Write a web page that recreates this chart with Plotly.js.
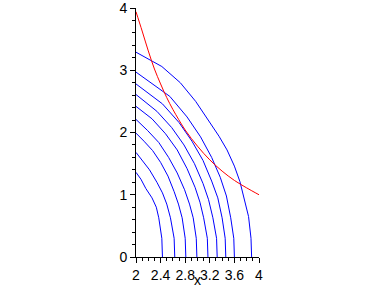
<!DOCTYPE html>
<html>
<head>
<meta charset="utf-8">
<script src="https://cdn.plot.ly/plotly-3.0.1.min.js"></script>
<style>html,body{margin:0;padding:0;background:#fff;}#chart{width:388px;height:288px;}</style>
</head>
<body>
<div id="chart"></div>
<script>
// Level curves (blue): x and y arrays per curve
const c1x = [2.43, 2.42, 2.37, 2.33, 2.26, 2.16, 2.08, 2.0];
const c1y = [0.0, 0.3, 0.63, 0.8, 0.95, 1.1, 1.25, 1.36];
const c2x = [2.63, 2.62, 2.56, 2.50, 2.43, 2.34, 2.22, 2.11, 2.0];
const c2y = [0.0, 0.3, 0.63, 0.85, 1.03, 1.2, 1.4, 1.55, 1.68];
const c3x = [2.81, 2.80, 2.75, 2.69, 2.62, 2.52, 2.40, 2.27, 2.13, 2.0];
const c3y = [0.0, 0.3, 0.63, 0.85, 1.05, 1.3, 1.52, 1.71, 1.86, 1.99];
const c4x = [2.99, 2.98, 2.93, 2.87, 2.79, 2.67, 2.53, 2.37, 2.19, 2.0];
const c4y = [0.0, 0.3, 0.63, 0.85, 1.08, 1.35, 1.6, 1.84, 2.03, 2.21];
const c5x = [3.17, 3.16, 3.10, 3.04, 2.96, 2.83, 2.67, 2.48, 2.26, 2.0];
const c5y = [0.0, 0.3, 0.63, 0.88, 1.12, 1.42, 1.72, 1.98, 2.22, 2.42];
const c6x = [3.32, 3.31, 3.25, 3.18, 3.09, 2.95, 2.78, 2.58, 2.34, 2.0];
const c6y = [0.0, 0.3, 0.63, 0.92, 1.18, 1.5, 1.8, 2.08, 2.34, 2.61];
const c7x = [3.46, 3.45, 3.40, 3.33, 3.23, 3.09, 2.91, 2.70, 2.43, 2.0];
const c7y = [0.0, 0.3, 0.63, 0.95, 1.22, 1.55, 1.86, 2.16, 2.46, 2.78];
const c8x = [3.60, 3.59, 3.54, 3.47, 3.37, 3.23, 3.05, 2.83, 2.55, 2.0];
const c8y = [0.0, 0.3, 0.63, 0.98, 1.28, 1.6, 1.93, 2.25, 2.58, 2.97];
const c9x = [3.88, 3.87, 3.83, 3.75, 3.69, 3.60, 3.48, 3.35, 3.18, 2.97, 2.72, 2.42, 2.0];
const c9y = [0.0, 0.3, 0.65, 1.0, 1.21, 1.46, 1.72, 1.94, 2.2, 2.5, 2.8, 3.06, 3.29];

// Red curve
const redX = [2.0, 2.1, 2.2, 2.3, 2.4, 2.5, 2.6, 2.8, 3.0, 3.2, 3.4, 3.6, 3.8, 4.0];
const redY = [3.94, 3.63, 3.31, 3.02, 2.78, 2.56, 2.37, 2.04, 1.78, 1.56, 1.38, 1.23, 1.11, 1.0];

// Tick labels
const xTickVals = [2, 2.4, 2.8, 3.2, 3.6, 4];
const xTickText = ["2", "2.4", "2.8", "3.2", "3.6", "4"];
const yTickVals = [0, 1, 2, 3, 4];
const yTickText = ["0", "1", "2", "3", "4"];
const xTitle = "x";

const blueCurves = [[c1x,c1y],[c2x,c2y],[c3x,c3y],[c4x,c4y],[c5x,c5y],[c6x,c6y],[c7x,c7y],[c8x,c8y],[c9x,c9y]];
const traces = blueCurves.map(([x,y]) => ({
  x: x, y: y, type: 'scatter', mode: 'lines',
  line: {color: '#0000ff', width: 1}, hoverinfo: 'skip'
}));
traces.push({x: redX, y: redY, type: 'scatter', mode: 'lines',
  line: {color: '#ff0000', width: 1, shape: 'spline'}, hoverinfo: 'skip'});

const font = {family: 'Liberation Sans, Arial, sans-serif', size: 14, color: '#000'};
const layout = {
  width: 388, height: 288,
  margin: {l: 136, r: 129, t: 8, b: 31, pad: 0},
  paper_bgcolor: '#fff', plot_bgcolor: '#fff',
  showlegend: false,
  font: font,
  xaxis: {
    range: [2, 4], showgrid: false, zeroline: false,
    showline: true, linecolor: '#000', linewidth: 1,
    ticks: 'outside', ticklen: 5, tickcolor: '#000', tickwidth: 1,
    tickvals: xTickVals, ticktext: xTickText, tickfont: font,
    ticklabeloverflow: 'allow',
    minor: {dtick: 0.1, ticks: 'outside', ticklen: 3, tickcolor: '#000', showgrid: false},
    fixedrange: true
  },
  yaxis: {
    range: [0, 4], showgrid: false, zeroline: false,
    showline: true, linecolor: '#000', linewidth: 1,
    ticks: 'outside', ticklen: 5, tickcolor: '#000', tickwidth: 1,
    tickvals: yTickVals, ticktext: yTickText, tickfont: font,
    ticklabeloverflow: 'allow',
    minor: {dtick: 0.2, ticks: 'outside', ticklen: 3, tickcolor: '#000', showgrid: false},
    fixedrange: true
  },
  annotations: [{
    text: xTitle, xref: 'x', yref: 'paper', x: 3, y: -0.058,
    xanchor: 'center', yanchor: 'top', showarrow: false, font: font, borderpad: 0
  }]
};
Plotly.newPlot('chart', traces, layout, {staticPlot: true, displayModeBar: false});
</script>
</body>
</html>
